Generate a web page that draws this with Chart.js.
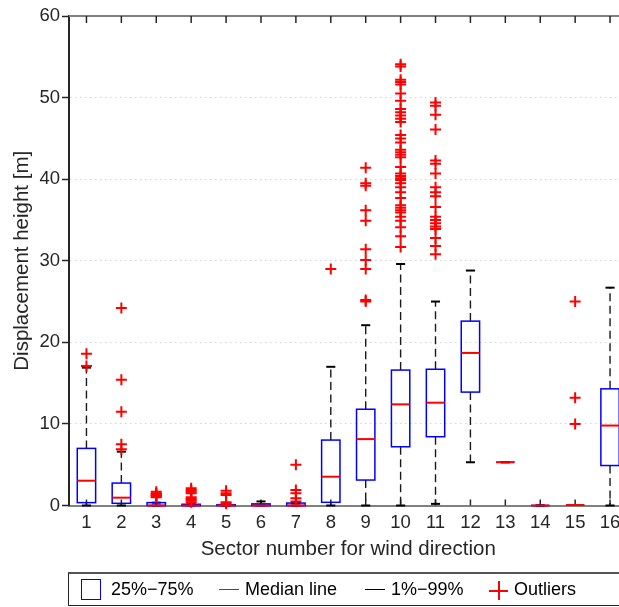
<!DOCTYPE html>
<html>
<head>
<meta charset="utf-8">
<script src="https://cdn.jsdelivr.net/npm/chart.js"></script>
<style>
body { margin: 0; overflow: hidden; background: #fff; font-family: "Liberation Sans", Arial, sans-serif; }
#wrap { position: relative; width: 619px; height: 607px; overflow: hidden; }
#chart { position: absolute; left: 0; top: 0; }
#legend { position: absolute; left: 68px; top: 572px; width: 580px; height: 34px; border: 1px solid #262626; border-top: 2px solid #555; box-sizing: border-box; font-size: 18px; color: #000; }
#legend span { position: absolute; top: -1px; line-height: 32px; white-space: nowrap; }
#legend i { position: absolute; display: block; }
</style>
</head>
<body>
<div id="wrap">
  <canvas id="chart" width="640" height="607"></canvas>
  <div id="legend">
    <i style="left:12px; top:5px; width:20px; height:21px; border:1.5px solid #0000ff; box-sizing:border-box;"></i>
    <span style="left:42px;">25%−75%</span>
    <i style="left:150px; top:15px; width:20px; height:1px; background:#ff0000;"></i>
    <span style="left:176px;">Median line</span>
    <i style="left:296px; top:15px; width:20px; height:1px; background:#000;"></i>
    <span style="left:322px;">1%−99%</span>
    <i style="left:420px; top:16px; width:19px; height:1.5px; background:#ff0000;"></i>
    <i style="left:429px; top:7px; width:1.5px; height:19px; background:#ff0000;"></i>
    <span style="left:445px;">Outliers</span>
  </div>
</div>
<script>
// sector numbers (wind direction)
const sectors = [1, 2, 3, 4, 5, 6, 7, 8, 9, 10, 11, 12, 13, 14, 15, 16];
// box statistics per sector [m]
const q1 = [0.35, 0.27, 0, 0, 0, 0, 0, 0.39, 3.12, 7.2, 8.43, 13.9, 5.3, 0, 0.06, 4.9];
const q3 = [7.0, 2.75, 0.35, 0.15, 0.1, 0.2, 0.3, 8.02, 11.8, 16.6, 16.7, 22.6, 5.3, 0, 0.06, 14.3];
const medians = [3.04, 0.96, 0, 0, 0, 0, 0, 3.53, 8.14, 12.4, 12.6, 18.7, 5.3, 0, 0.06, 9.8];
const whiskerLow = [0, 0, 0, 0, 0, 0, 0, 0, 0, 0, 0.2, 5.3, 5.3, 0, 0.06, 0];
const whiskerHigh = [16.9, 6.6, 0.35, 0.15, 0.1, 0.5, 0.3, 17.0, 22.1, 29.6, 25.0, 28.8, 5.3, 0, 0.06, 26.7];
// outliers per sector
const outliers = [
  [18.6, 17.1],
  [24.2, 15.4, 11.5, 7.5, 6.9],
  [1.0, 1.1, 1.2, 1.3, 1.4, 1.5, 1.7],
  [2.1, 1.9, 1.7, 1.5, 1.0, 0.8, 0.6, 0.4],
  [1.8, 1.5, 1.3, 0.4, 0.2],
  [],
  [5.0, 1.9, 1.5, 0.9, 0.5],
  [29.0],
  [41.4, 39.5, 39.2, 36.2, 34.9, 31.4, 30.1, 29.0, 25.2, 25.0],
  [54.1, 53.8, 52.2, 51.9, 51.6, 50.5, 49.6, 48.6, 48.2, 47.8, 47.4, 47.0, 45.4, 45.0, 44.5,
   43.6, 43.3, 43.0, 42.7, 41.5, 40.7, 40.4, 40.1, 39.9, 39.5, 39.0, 38.4, 37.7, 36.8, 36.5,
   36.2, 35.9, 35.4, 34.9, 34.1, 33.0, 31.7],
  [49.4, 49.0, 47.9, 46.1, 42.3, 41.9, 40.7, 39.0, 38.4, 37.9, 36.6, 35.4, 35.0, 34.6, 34.2,
   33.9, 32.8, 31.8, 30.8],
  [],
  [],
  [],
  [25.0, 13.2, 10.0],
  []
];
const yTicks = [0, 10, 20, 30, 40, 50, 60];

const outlierPoints = [];
outliers.forEach((vals, i) => vals.forEach(v => outlierPoints.push({ x: sectors[i], y: v })));

Chart.defaults.font.family = '"Liberation Sans", Arial, sans-serif';

const boxPlugin = {
  id: 'boxes',
  beforeDatasetsDraw(chart) {
    const { ctx, chartArea: a, scales: { x, y } } = chart;
    const line = (x1, y1, x2, y2) => { ctx.beginPath(); ctx.moveTo(x1, y1); ctx.lineTo(x2, y2); ctx.stroke(); };
    ctx.save();
    // top frame line
    ctx.strokeStyle = '#808080';
    ctx.lineWidth = 2;
    line(a.left, a.top, a.right + 20, a.top);
    // inward ticks top and bottom
    ctx.strokeStyle = '#262626';
    ctx.lineWidth = 1.5;
    sectors.forEach(s => {
      const px = x.getPixelForValue(s);
      line(px, a.top, px, a.top + 7);
      line(px, a.bottom, px, a.bottom - 6);
    });
    const hw = x.getPixelForValue(1.263) - x.getPixelForValue(1);
    const cw = x.getPixelForValue(1.13) - x.getPixelForValue(1);
    sectors.forEach((s, i) => {
      const px = x.getPixelForValue(s);
      const yq1 = y.getPixelForValue(q1[i]);
      const yq3 = y.getPixelForValue(q3[i]);
      const ylo = y.getPixelForValue(whiskerLow[i]);
      const yhi = y.getPixelForValue(whiskerHigh[i]);
      const ym = y.getPixelForValue(medians[i]);
      // whiskers
      ctx.strokeStyle = '#1a1a1a';
      ctx.lineWidth = 1.4;
      ctx.setLineDash([8, 4.5]);
      if (yhi < yq3) line(px, yq3, px, yhi);
      if (ylo > yq1) line(px, yq1, px, ylo);
      ctx.setLineDash([]);
      ctx.strokeStyle = '#000';
      ctx.lineWidth = 2;
      line(px - cw, yhi, px + cw, yhi);
      line(px - cw, ylo, px + cw, ylo);
      // box
      ctx.strokeStyle = '#0000ff';
      ctx.lineWidth = 1.5;
      ctx.strokeRect(px - hw, yq3, 2 * hw, yq1 - yq3);
      // median
      ctx.strokeStyle = '#ff0000';
      ctx.lineWidth = 2;
      line(px - hw, ym, px + hw, ym);
    });
    ctx.restore();
  }
};

new Chart(document.getElementById('chart').getContext('2d'), {
  type: 'scatter',
  data: {
    datasets: [{
      label: 'Outliers',
      data: outlierPoints,
      pointStyle: 'cross',
      radius: 5.5,
      borderColor: '#ff0000',
      borderWidth: 2,
      clip: false
    }]
  },
  options: {
    responsive: false,
    animation: false,
    events: [],
    layout: { padding: { left: 0, right: 12.5, top: 16, bottom: 45.5 } },
    plugins: { legend: { display: false }, tooltip: { enabled: false } },
    scales: {
      x: {
        type: 'linear',
        min: 0.5,
        max: 16.5,
        afterBuildTicks: s => { s.ticks = sectors.map(v => ({ value: v })); },
        afterFit: s => { s.height = 56; },
        grid: { display: false, drawTicks: false },
        border: { color: '#808080', width: 2 },
        ticks: { color: '#262626', font: { size: 18.5 }, padding: 6, maxRotation: 0, autoSkip: false },
        title: { display: true, text: 'Sector number for wind direction', color: '#262626', font: { size: 20.5 }, padding: { top: 2, bottom: 0 } }
      },
      y: {
        min: 0,
        max: 60,
        afterBuildTicks: s => { s.ticks = yTicks.map(v => ({ value: v })); },
        afterFit: s => { s.width = 69; },
        ticks: { color: '#262626', font: { size: 18.5 }, padding: 2 },
        grid: {
          color: c => (c.tick && (c.tick.value === 0 || c.tick.value === 60)) ? 'rgba(0,0,0,0)' : '#d4d4d4',
          tickColor: '#262626',
          tickLength: 7,
          tickWidth: 1.5,
          lineWidth: 1
        },
        border: { color: '#262626', width: 2, dash: [1.5, 3.5] },
        title: { display: true, text: 'Displacement height [m]', color: '#262626', font: { size: 20.5 }, padding: { top: 10, bottom: 0 } }
      }
    }
  },
  plugins: [boxPlugin]
});
</script>
</body>
</html>
